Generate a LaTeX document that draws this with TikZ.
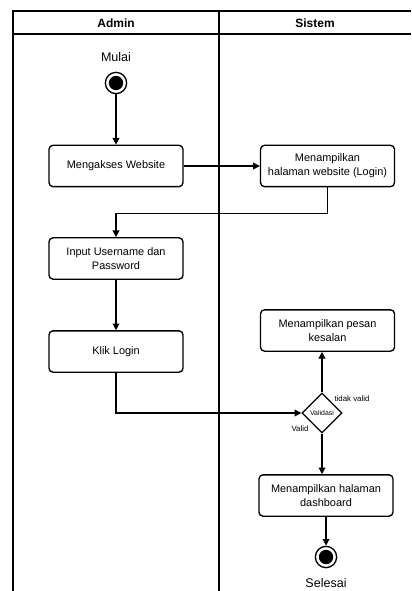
\documentclass[tikz,border=0pt]{standalone}
\usepackage{fontspec}
\setmainfont{Liberation Sans}
\usetikzlibrary{shapes.geometric,arrows.meta}

\begin{document}
\begin{tikzpicture}[x=0.75pt, y=-0.75pt, line width=1pt,
    act/.style={draw, rounded corners=3pt, minimum width=100.5pt, minimum height=31pt,
        align=center, inner sep=1pt, font=\fontsize{8.2}{10.5}\selectfont},
    startnode/.style={circle, draw, fill=white, minimum size=16pt, inner sep=0pt,
        path picture={\fill[black] (path picture bounding box.center) circle (5.4pt);}},
    decide/.style={diamond, draw, minimum size=30pt, inner sep=0pt, aspect=1,
        font=\fontsize{5.2}{6}\selectfont},
    lbl/.style={font=\fontsize{9.4}{11}\selectfont},
    small/.style={font=\fontsize{5.9}{7}\selectfont, inner sep=0pt},
    head/.style={font=\bfseries\fontsize{9}{11}\selectfont},
    flow/.style={-{Triangle[length=5pt,width=5pt]}}]
    \useasboundingbox (0,0) rectangle (411,591);
    % swimlanes
    \draw (13,591) -- (13,11) -- (411,11);
    \draw (13,34) -- (411,34);
    \draw (219,11) -- (219,591);
    \node[head] (admin) at (116,23) {Admin};
    \node[head] (sistem) at (315,23) {Sistem};
    % activities
    \node[lbl] (mulai) at (116,57) {Mulai};
    \node[startnode] (start) at (116,83) {};
    \node[act] (web) at (116,166) {Mengakses Website};
    \node[act] (login) at (327.5,166) {Menampilkan\\halaman website (Login)};
    \node[act] (input) at (116,258.5) {Input Username dan\\Password};
    \node[act] (klik) at (116,351.5) {Klik Login};
    \node[act] (pesan) at (327.5,330.5) {Menampilkan pesan\\kesalan};
    \node[decide] (valid) at (322,413) {Validasi};
    \node[small] (tidak) at (352,399) {tidak valid};
    \node[small] (ok) at (300,429) {Valid};
    \node[act] (dash) at (326,495.5) {Menampilkan halaman\\dashboard};
    \node[startnode] (stop) at (326,557) {};
    \node[lbl] (selesai) at (326,583) {Selesai};
    % flows
    \draw[flow] (start) -- (web);
    \draw[flow] (web) -- (login);
    \draw[flow] (login.south) -- ++(0,26) -| (input.north);
    \draw[flow] (input) -- (klik);
    \draw[flow] (klik.south) |- (valid.west);
    \draw[flow] (valid.north) -- (valid.north |- pesan.south);
    \draw[flow] (valid.south) -- (valid.south |- dash.north);
    \draw[flow] (dash) -- (stop);
\end{tikzpicture}
\end{document}
